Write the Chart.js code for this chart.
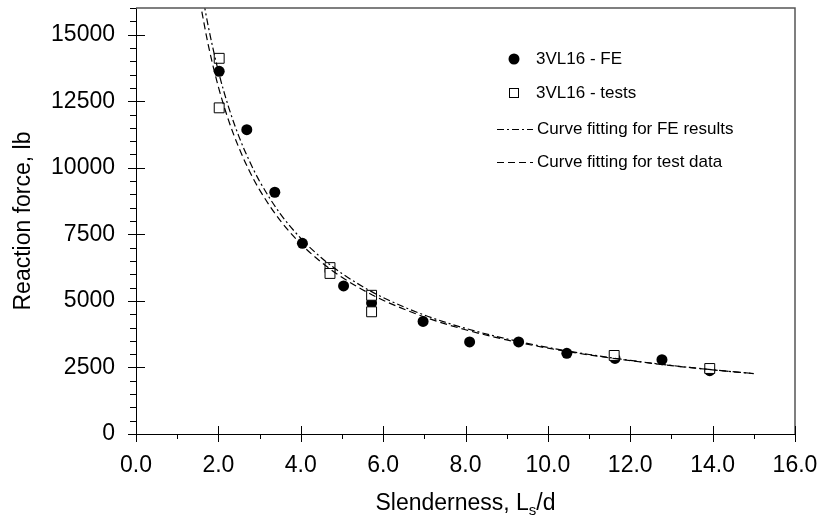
<!DOCTYPE html>
<html>
<head>
<meta charset="utf-8">
<script src="https://cdn.jsdelivr.net/npm/chart.js@4.4.1/dist/chart.umd.min.js"></script>
<style>
  body { margin: 0; background: #fff; }
  canvas { display: block; }
</style>
</head>
<body>
<canvas id="chart" width="824" height="529"></canvas>
<script>
// FE results (filled circles)
const feX = [2.02, 2.69, 3.37, 4.04, 5.04, 5.72, 6.97, 8.10, 9.29, 10.46, 11.63, 12.77, 13.93];
const feY = [13620, 11430, 9080, 7160, 5560, 4920, 4230, 3460, 3460, 3030, 2840, 2790, 2380];

// test data (open squares)
const testX = [2.02, 2.02, 4.71, 4.71, 5.72, 5.72, 11.61, 13.93];
const testY = [14110, 12250, 6250, 6030, 5210, 4590, 2950, 2460];

// curve fitting for FE results (dash-dot)
const fitFeX = [1.65, 1.75, 2, 2.25, 2.5, 2.75, 3, 3.5, 4, 4.5, 5, 5.5, 6, 7, 8, 9, 10, 11, 12, 13, 14, 15];
const fitFeY = [16170, 15345, 13625, 12270, 11170, 10265, 9495, 8280, 7352, 6620, 6030, 5540, 5125, 4467, 3967, 3573, 3252, 2987, 2765, 2575, 2411, 2267];

// curve fitting for test data (dashed)
const fitTestX = [1.55, 1.75, 2, 2.25, 2.5, 2.75, 3, 3.5, 4, 4.5, 5, 5.5, 6, 7, 8, 9, 10, 11, 12, 13, 14, 15];
const fitTestY = [16270, 14645, 13040, 11770, 10745, 9890, 9170, 8020, 7145, 6450, 5885, 5420, 5025, 4396, 3915, 3535, 3225, 2970, 2755, 2570, 2410, 2270];

const yTicks = [0, 2500, 5000, 7500, 10000, 12500, 15000];

const FONT = '"Liberation Sans", Arial, sans-serif';
const pts = (xs, ys) => xs.map((v, i) => ({ x: v, y: ys[i] }));

const DASH = [7, 4];
const DASHDOT = [7, 3, 2, 3];

// ticks, frame, legend and axis titles
const decor = {
  id: 'decor',
  afterDraw(chart) {
    const { ctx, chartArea: a, scales: { x, y } } = chart;
    ctx.save();

    // top and right border
    ctx.strokeStyle = '#555';
    ctx.lineWidth = 1.5;
    ctx.beginPath();
    ctx.moveTo(a.left, a.top);
    ctx.lineTo(a.right, a.top);
    ctx.lineTo(a.right, a.bottom);
    ctx.stroke();

    // tick marks
    ctx.strokeStyle = '#000';
    ctx.lineWidth = 1;
    ctx.beginPath();
    for (let v = 0; v <= 16000; v += 500) {
      const py = Math.round(y.getPixelForValue(v)) + 0.5;
      const major = v % 2500 === 0 && v <= 15000;
      ctx.moveTo(a.left - (major ? 8 : 6), py);
      ctx.lineTo(a.left + (major ? 9 : 0), py);
    }
    for (let v = 0; v <= 16; v += 1) {
      const px = Math.round(x.getPixelForValue(v)) + 0.5;
      const major = v % 2 === 0;
      ctx.moveTo(px, a.bottom + (major ? 8 : 5));
      ctx.lineTo(px, a.bottom - (major ? 8 : 0));
    }
    ctx.stroke();

    // legend
    ctx.font = '17px ' + FONT;
    ctx.fillStyle = '#000';
    ctx.textBaseline = 'middle';
    ctx.textAlign = 'left';
    const lx = 536;
    ctx.beginPath();
    ctx.arc(514, 59, 5.5, 0, Math.PI * 2);
    ctx.fill();
    ctx.fillText('3VL16 - FE', lx, 59);
    ctx.strokeRect(509.5, 88.5, 9, 9);
    ctx.fillText('3VL16 - tests', lx, 93);
    ctx.strokeStyle = '#000';
    ctx.lineWidth = 1.2;
    ctx.setLineDash(DASHDOT);
    ctx.beginPath(); ctx.moveTo(497, 129.5); ctx.lineTo(533, 129.5); ctx.stroke();
    ctx.setLineDash(DASH);
    ctx.beginPath(); ctx.moveTo(497, 162.5); ctx.lineTo(533, 162.5); ctx.stroke();
    ctx.setLineDash([]);
    ctx.fillText('Curve fitting for FE results', 537, 129);
    ctx.fillText('Curve fitting for test data', 537, 162);

    // axis titles
    ctx.font = '23px ' + FONT;
    ctx.textAlign = 'left';
    const cx = (a.left + a.right) / 2;
    const p1 = 'Slenderness, L', p3 = '/d';
    const w1 = ctx.measureText(p1).width;
    const w3 = ctx.measureText(p3).width;
    ctx.font = '15px ' + FONT;
    const w2 = ctx.measureText('s').width;
    const sx = cx - (w1 + w2 + w3) / 2;
    ctx.font = '23px ' + FONT;
    ctx.fillText(p1, sx, 504);
    ctx.fillText(p3, sx + w1 + w2, 504);
    ctx.font = '15px ' + FONT;
    ctx.fillText('s', sx + w1, 511);

    ctx.font = '23px ' + FONT;
    ctx.translate(24, (a.top + a.bottom) / 2);
    ctx.rotate(-Math.PI / 2);
    ctx.textAlign = 'center';
    ctx.fillText('Reaction force, lb', 0, 0);
    ctx.restore();
  }
};

new Chart(document.getElementById('chart'), {
  type: 'scatter',
  data: {
    datasets: [
      {
        label: '3VL16 - FE',
        data: pts(feX, feY),
        pointStyle: 'circle',
        pointRadius: 5.5,
        backgroundColor: '#000',
        borderColor: '#000',
        borderWidth: 0,
        order: 3
      },
      {
        label: '3VL16 - tests',
        data: pts(testX, testY),
        pointStyle: 'rect',
        pointRadius: 7,
        backgroundColor: '#fff',
        borderColor: '#000',
        borderWidth: 1,
        order: 2
      },
      {
        label: 'Curve fitting for FE results',
        data: pts(fitFeX, fitFeY),
        showLine: true,
        pointRadius: 0,
        borderColor: '#000',
        borderWidth: 1.2,
        borderDash: DASHDOT,
        cubicInterpolationMode: 'monotone',
        order: 1
      },
      {
        label: 'Curve fitting for test data',
        data: pts(fitTestX, fitTestY),
        showLine: true,
        pointRadius: 0,
        borderColor: '#000',
        borderWidth: 1.2,
        borderDash: DASH,
        cubicInterpolationMode: 'monotone',
        order: 1
      }
    ]
  },
  options: {
    responsive: false,
    animation: false,
    layout: { padding: { top: 7, right: 29, left: 0, bottom: 0 } },
    plugins: {
      legend: { display: false },
      tooltip: { enabled: false }
    },
    scales: {
      x: {
        type: 'linear',
        min: 0,
        max: 16,
        afterFit: (s) => { s.height = 95; s.paddingLeft = 0; s.paddingRight = 0; },
        grid: { display: false, drawTicks: false },
        border: { display: true, color: '#000', width: 1 },
        ticks: {
          stepSize: 2,
          padding: 18,
          color: '#000',
          font: { family: FONT, size: 23 },
          maxRotation: 0,
          callback: (v) => v.toFixed(1)
        }
      },
      y: {
        type: 'linear',
        min: 0,
        max: 16000,
        afterFit: (s) => { s.width = 136; s.paddingTop = 0; s.paddingBottom = 0; },
        afterBuildTicks: (s) => { s.ticks = yTicks.map(v => ({ value: v })); },
        grid: { display: false, drawTicks: false },
        border: { display: true, color: '#000', width: 1 },
        ticks: {
          padding: 21,
          color: '#000',
          font: { family: FONT, size: 23 },
          callback: (v) => String(v)
        }
      }
    }
  },
  plugins: [decor]
});
</script>
</body>
</html>
